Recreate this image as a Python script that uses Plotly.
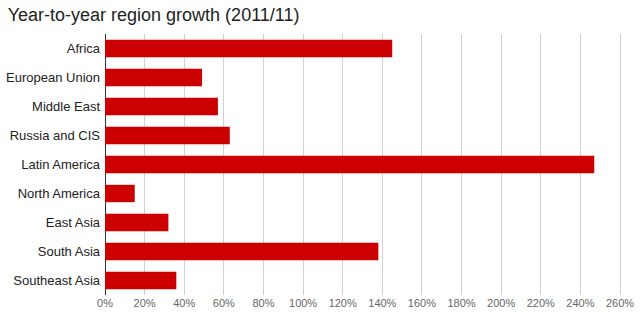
import plotly.graph_objects as go

regions = ["Africa", "European Union", "Middle East", "Russia and CIS", "Latin America",
           "North America", "East Asia", "South Asia", "Southeast Asia"]
growth = [145, 49, 57, 63, 247, 15, 32, 138, 36]
tick_vals = list(range(0, 261, 20))
tick_text = [f"{v}%" for v in tick_vals]

fig = go.Figure(go.Bar(
    x=growth, y=regions, orientation="h",
    marker=dict(color="#cc0000", line=dict(width=0)),
))

fig.update_layout(
    width=640, height=322,
    margin=dict(l=105, r=18, t=34, b=27),
    paper_bgcolor="white", plot_bgcolor="white",
    bargap=0.4,
    showlegend=False,
    font=dict(family="Liberation Sans, Arial", size=13, color="#222"),
    title=dict(text="Year-to-year region growth (2011/11)", x=0.012, xanchor="left",
               y=0.955, yanchor="middle",
               font=dict(family="Liberation Sans, Arial", size=18, color="#222")),
    xaxis=dict(range=[0, 261], tickvals=tick_vals, ticktext=tick_text,
               showgrid=True, gridcolor="#d0d0d0", gridwidth=1,
               zeroline=True, zerolinecolor="#333", zerolinewidth=1,
               tickfont=dict(family="Liberation Sans, Arial", size=11, color="#666"),
               ticks="", fixedrange=True, automargin=False),
    yaxis=dict(categoryorder="array", categoryarray=regions, autorange="reversed",
               showgrid=False, zeroline=False, ticks="", ticklabelstandoff=4,
               automargin=False,
               tickfont=dict(family="Liberation Sans, Arial", size=13, color="#222")),
)

fig.write_html("out.html")
